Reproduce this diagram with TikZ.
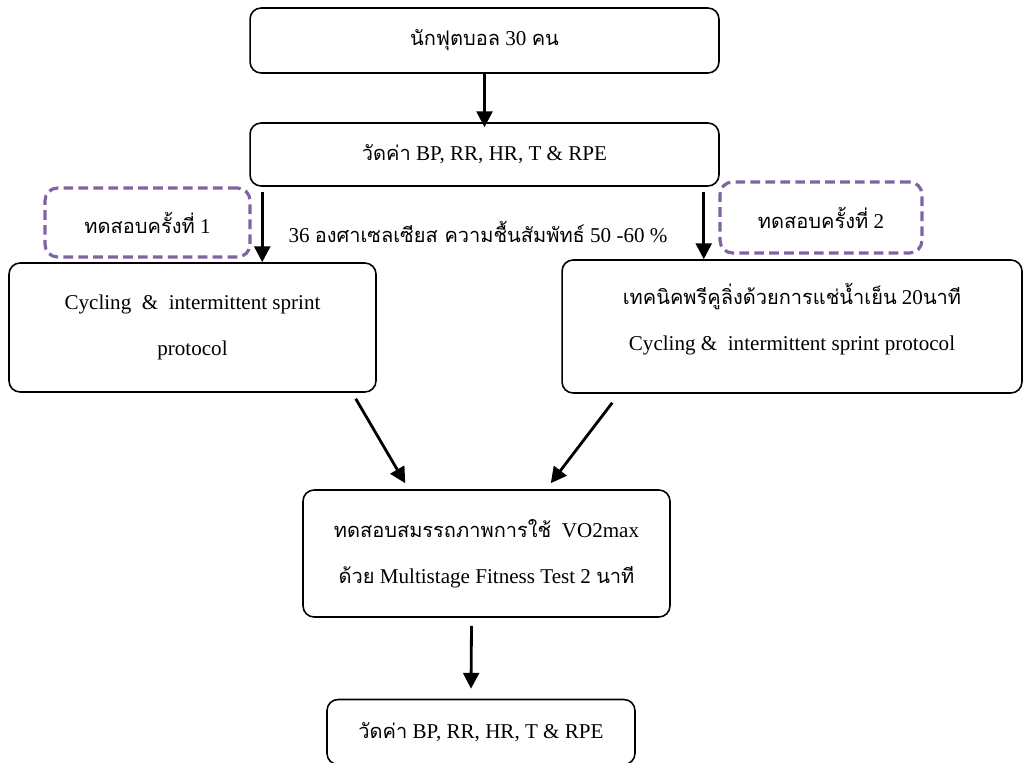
\documentclass[tikz,border=0pt]{standalone}
\usepackage{fontspec}
\setmainfont{Liberation Serif}
\newfontfamily\thai[Script=Thai,Scale=0.95]{Loma}
\usetikzlibrary{arrows.meta,positioning}
\definecolor{trialpurple}{HTML}{8064A2}
\tikzset{
  stepbox/.style={draw, line width=0.9pt, rounded corners=0.22cm, align=center, inner sep=2pt},
  trialbox/.style={draw=trialpurple, line width=1.8pt, dash pattern=on 5.5pt off 3pt, rounded corners=0.25cm, align=center},
  arr/.style={line width=1.6pt, -{Triangle[length=9pt,width=9pt]}}
}
\begin{document}
\begin{tikzpicture}[x=0.02cm, y=-0.02cm, font=\fontsize{12pt}{26pt}\selectfont]
\useasboundingbox (0,0) rectangle (1025,763);
% main column
\node[stepbox, minimum width=9.38cm, minimum height=1.3cm] (players) at (484.5,40.5) {{\thai นักฟุตบอล} 30 {\thai คน}};
\node[stepbox, minimum width=9.38cm, minimum height=1.26cm] (measure1) at (484.5,154.5) {{\thai วัดค่า} BP, RR, HR, T \& RPE};
% the two trials
\node[trialbox, minimum width=4.1cm, minimum height=1.38cm] (trial1) at (147.5,222.5) {{\thai ทดสอบครั้งที่} 1};
\node[trialbox, minimum width=4.04cm, minimum height=1.42cm] (trial2) at (821,217.5) {{\thai ทดสอบครั้งที่} 2};
\node (cond) at (478,232) {36 {\thai องศาเซลเซียส ความชื้นสัมพัทธ์} 50 -60 \%};
\node[stepbox, minimum width=7.34cm, minimum height=2.58cm] (control) at (192.5,327.5) {Cycling \ \& \ intermittent sprint\\protocol};
\node[stepbox, minimum width=9.2cm, minimum height=2.66cm] (cooling) at (792,326.5) {{\thai เทคนิคพรีคูลิ่งด้วยการแช่น้ำเย็น} 20{\thai นาที}\\Cycling \& \ intermittent sprint protocol\\[-23pt]\strut};
% test and final measure
\node[stepbox, minimum width=7.34cm, minimum height=2.54cm] (vo2) at (486.5,553.5) {{\thai ทดสอบสมรรถภาพการใช้} \ VO2max\\{\thai ด้วย} Multistage Fitness Test 2 {\thai นาที}};
\node[stepbox, minimum width=6.16cm, minimum height=1.3cm] (measure2) at (481,732) {{\thai วัดค่า} BP, RR, HR, T \& RPE};
% arrows
\draw[arr] (players.south) -- ([yshift=-0.1cm]measure1.north);
\draw[arr] ([xshift=0.26cm,yshift=-0.1cm]measure1.south west) -- ([xshift=0.26cm]measure1.south west |- control.north);
\draw[arr] ([xshift=-0.32cm,yshift=-0.1cm]measure1.south east) -- ([xshift=-0.32cm]measure1.south east |- cooling.north);
\draw[arr] ([xshift=-0.42cm,yshift=-0.12cm]control.south east) -- ([xshift=2.06cm,yshift=0.12cm]vo2.north west);
\draw[arr] ([xshift=1.02cm,yshift=-0.18cm]cooling.south west) -- ([xshift=-2.4cm,yshift=0.12cm]vo2.north east);
\draw[arr] ([xshift=-0.3cm,yshift=-0.16cm]vo2.south) -- ([xshift=-0.3cm+0.1cm,yshift=0.2cm]measure2.north);
\end{tikzpicture}
\end{document}
